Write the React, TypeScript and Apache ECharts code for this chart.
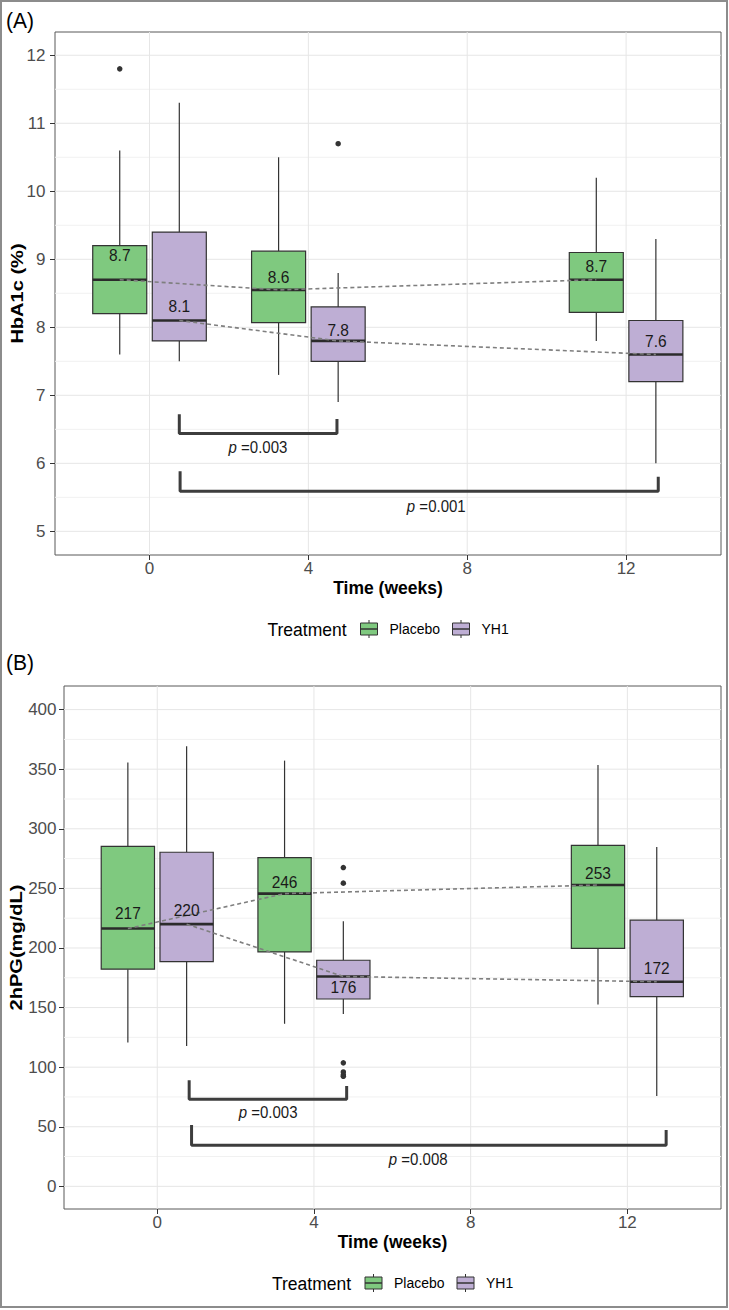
import React, { useEffect, useRef } from "react";
import * as echarts from "echarts";

const FONT = "'Liberation Sans', Arial, Helvetica, sans-serif";

// ---------- shared ----------
const weeks = [0, 4, 12];
const xTickLabels = [0, 4, 8, 12];
const treatments = ["Placebo", "YH1"];
const treatmentColors = ["#7fc97f", "#beaed4"];

// ---------- (A) HbA1c (%) : [lower whisker, Q1, median, Q3, upper whisker] per week ----------
const hbPlacebo = [
  [7.6, 8.2, 8.7, 9.2, 10.6],
  [7.3, 8.07, 8.55, 9.12, 10.5],
  [7.8, 8.22, 8.7, 9.1, 10.2],
];
const hbYH1 = [
  [7.5, 7.8, 8.1, 9.4, 11.3],
  [6.9, 7.5, 7.8, 8.3, 8.8],
  [6.0, 7.2, 7.6, 8.1, 9.3],
];
const hbPlaceboOutliers = [[0, 11.8]]; // [week, value]
const hbYH1Outliers = [[4, 10.7]];
const hbPlaceboLabels = ["8.7", "8.6", "8.7"];
const hbYH1Labels = ["8.1", "7.8", "7.6"];
const hbPlaceboLabelY = [9.07, 8.75, 8.9];
const hbYH1LabelY = [8.31, 7.97, 7.8];
const hbTicks = [5, 6, 7, 8, 9, 10, 11, 12];
const hbMinorTicks = [5.5, 6.5, 7.5, 8.5, 9.5, 10.5, 11.5];
const hbBracketX = [[0.75, 4.72], [0.77, 12.81]];
const hbBracketTop = [[6.7, 6.63], [5.86, 5.78]];
const hbBracketBar = [6.44, 5.59];
const hbPValues = ["0.003", "0.001"];
const hbPX = [2.73, 7.22];
const hbPY = [6.24, 5.37];

// ---------- (B) 2hPG (mg/dL) ----------
const pgPlacebo = [
  [120.6, 182.2, 216.3, 285.3, 355.6],
  [136.4, 196.7, 245.6, 275.8, 357.2],
  [152.5, 199.7, 252.8, 286.1, 353.6],
];
const pgYH1 = [
  [117.8, 188.6, 220, 280.3, 369.2],
  [144.7, 157.2, 176.1, 189.7, 222.5],
  [75.8, 159.2, 171.7, 223.3, 284.7],
];
const pgPlaceboOutliers: number[][] = [];
const pgYH1Outliers = [[4, 267.5], [4, 254.4], [4, 103.6], [4, 96], [4, 93.6], [4, 92.3]];
const pgPlaceboLabels = ["217", "246", "253"];
const pgYH1Labels = ["220", "176", "172"];
const pgPlaceboLabelY = [229.4, 255.8, 263.3];
const pgYH1LabelY = [232.2, 167.8, 183];
const pgTicks = [0, 50, 100, 150, 200, 250, 300, 350, 400];
const pgMinorTicks = [25, 75, 125, 175, 225, 275, 325, 375];
const pgBracketX = [[0.815, 4.835], [0.876, 12.99]];
const pgBracketTop = [[87.8, 83], [50.3, 46]];
const pgBracketBar = [73.1, 34.5];
const pgPValues = ["0.003", "0.008"];
const pgPX = [2.83, 6.66];
const pgPY = [62, 22.5];

// ---------- layout ----------
const DODGE = 0.75;
const BOX_W = 1.36;
const X_MIN = -2.38;
const X_MAX = 14.39;

const panels = [
  {
    tag: "(A)", tagY: 21, yTitle: "HbA1c (%)", yTitleX: 17.5,
    grid: { left: 55, top: 32, width: 666, height: 523 },
    yMin: 4.652, yMax: 12.342, yTicks: hbTicks, yMinor: hbMinorTicks, labelMargin: 9.5,
    boxes: [hbPlacebo, hbYH1], outliers: [hbPlaceboOutliers, hbYH1Outliers],
    labels: [hbPlaceboLabels, hbYH1Labels], labelY: [hbPlaceboLabelY, hbYH1LabelY],
    bx: hbBracketX, bt: hbBracketTop, bb: hbBracketBar,
    pv: hbPValues, px: hbPX, py: hbPY,
  },
  {
    tag: "(B)", tagY: 663, yTitle: "2hPG(mg/dL)", yTitleX: 16,
    grid: { left: 64, top: 686, width: 657, height: 523 },
    yMin: -19.0, yMax: 419.8, yTicks: pgTicks, yMinor: pgMinorTicks, labelMargin: 7.5,
    boxes: [pgPlacebo, pgYH1], outliers: [pgPlaceboOutliers, pgYH1Outliers],
    labels: [pgPlaceboLabels, pgYH1Labels], labelY: [pgPlaceboLabelY, pgYH1LabelY],
    bx: pgBracketX, bt: pgBracketTop, bb: pgBracketBar,
    pv: pgPValues, px: pgPX, py: pgPY,
  },
];

const offsets = [-DODGE, DODGE];

function gridLineSeries(gi: number, dir: string, values: number[], other: number, color: string, width: number) {
  return {
    type: "custom", xAxisIndex: gi, yAxisIndex: gi, silent: true, z: 0,
    data: values.map((v) => (dir === "x" ? [v, other] : [other, v])),
    renderItem: (params: any, api: any) => {
      const cs = params.coordSys;
      const p = api.coord([api.value(0), api.value(1)]);
      const shape = dir === "x"
        ? { x1: p[0], y1: cs.y, x2: p[0], y2: cs.y + cs.height }
        : { x1: cs.x, y1: p[1], x2: cs.x + cs.width, y2: p[1] };
      return { type: "line", shape, style: { stroke: color, lineWidth: width } };
    },
  };
}

function boxSeries(gi: number, stats: number[][], off: number, fill: string, name: string) {
  return {
    type: "custom", name, xAxisIndex: gi, yAxisIndex: gi, z: 2, silent: true,
    data: stats.map((s, i) => [weeks[i] + off, ...s]),
    renderItem: (params: any, api: any) => {
      const x = api.value(0);
      const pts = [1, 2, 3, 4, 5].map((d) => api.coord([x, api.value(d)]));
      const w = api.size([BOX_W, 0])[0];
      const cx = pts[0][0];
      return {
        type: "group",
        children: [
          { type: "line", shape: { x1: cx, y1: pts[0][1], x2: cx, y2: pts[1][1] }, style: { stroke: "#333", lineWidth: 1.2 } },
          { type: "line", shape: { x1: cx, y1: pts[3][1], x2: cx, y2: pts[4][1] }, style: { stroke: "#333", lineWidth: 1.2 } },
          { type: "rect", shape: { x: cx - w / 2, y: pts[3][1], width: w, height: pts[1][1] - pts[3][1] }, style: { fill, stroke: "#333", lineWidth: 1.2 } },
          { type: "line", shape: { x1: cx - w / 2, y1: pts[2][1], x2: cx + w / 2, y2: pts[2][1] }, style: { stroke: "#2b2b2b", lineWidth: 2.6 } },
        ],
      };
    },
  };
}

function textSeries(gi: number, data: number[][], texts: string[], rich: boolean) {
  return {
    type: "custom", xAxisIndex: gi, yAxisIndex: gi, z: 6, silent: true,
    data,
    renderItem: (params: any, api: any) => {
      const p = api.coord([api.value(0), api.value(1)]);
      const t = texts[params.dataIndex];
      const size = rich ? 15 : 15.5;
      const style: any = {
        text: rich ? "{i|p}{n| =" + t + "}" : t,
        fill: "#1a1a1a", fontSize: size, fontFamily: FONT,
        textAlign: "center", align: "center", textVerticalAlign: "middle", verticalAlign: "middle",
      };
      if (rich) {
        style.rich = {
          i: { fontStyle: "italic", fontSize: size, fontFamily: FONT, fill: "#1a1a1a" },
          n: { fontSize: size, fontFamily: FONT, fill: "#1a1a1a" },
        };
      }
      return { type: "text", x: p[0], y: p[1], scaleY: 1.08, style };
    },
  };
}

function txt(text: string, x: number, y: number, size: number, opts: any = {}) {
  return {
    type: "text", x, y, rotation: opts.rotation || 0, scaleX: opts.scaleX || 1, scaleY: opts.scaleY || 1, z: 10,
    style: {
      text, fill: opts.fill || "#000", fontSize: size, fontFamily: FONT,
      fontWeight: opts.bold ? "bold" : "normal",
      textAlign: opts.align || "left", align: opts.align || "left",
      textVerticalAlign: "middle", verticalAlign: "middle",
    },
  };
}

function legendKey(x: number, y: number, fill: string) {
  return [
    { type: "line", z: 10, shape: { x1: x + 8.5, y1: y - 9, x2: x + 8.5, y2: y + 9 }, style: { stroke: "#333", lineWidth: 1 } },
    { type: "rect", z: 10, shape: { x, y: y - 6, width: 17, height: 12 }, style: { fill, stroke: "#333", lineWidth: 1 } },
    { type: "line", z: 10, shape: { x1: x, y1: y, x2: x + 17, y2: y }, style: { stroke: "#333", lineWidth: 1.5 } },
  ];
}

function buildOption() {
  const series: any[] = [];
  const graphic: any[] = [
    { type: "rect", z: 0, shape: { x: 1, y: 1, width: 726, height: 1306 }, style: { fill: "none", stroke: "#8c8c8c", lineWidth: 2 } },
  ];
  panels.forEach((p, gi) => {
    series.push(gridLineSeries(gi, "y", p.yMinor, X_MIN, "#f1f1f1", 1));
    series.push(gridLineSeries(gi, "y", p.yTicks, X_MIN, "#e6e6e6", 1));
    series.push(gridLineSeries(gi, "x", xTickLabels, p.yMin, "#e6e6e6", 1));
    treatments.forEach((t, k) => {
      series.push(boxSeries(gi, p.boxes[k], offsets[k], treatmentColors[k], t));
      series.push({
        type: "scatter", xAxisIndex: gi, yAxisIndex: gi, z: 3, silent: true,
        symbolSize: 5.5, itemStyle: { color: "#333", opacity: 1 },
        data: p.outliers[k].map((o) => [o[0] + offsets[k], o[1]]),
      });
      series.push({
        type: "line", xAxisIndex: gi, yAxisIndex: gi, z: 4, silent: true, symbol: "none",
        lineStyle: { color: "#7f7f7f", width: 1.6, type: [4, 3] },
        data: p.boxes[k].map((s, i) => [weeks[i] + offsets[k], s[2]]),
      });
      series.push(textSeries(gi, weeks.map((w, i) => [w + offsets[k], p.labelY[k][i]]), p.labels[k], false));
    });
    p.bx.forEach((bx, j) => {
      series.push({
        type: "line", xAxisIndex: gi, yAxisIndex: gi, z: 5, silent: true, symbol: "none",
        lineStyle: { color: "#3d3d3d", width: 3, cap: "square" },
        data: [[bx[0], p.bt[j][0]], [bx[0], p.bb[j]], [bx[1], p.bb[j]], [bx[1], p.bt[j][1]]],
      });
    });
    series.push(textSeries(gi, p.px.map((x, j) => [x, p.py[j]]), p.pv, true));

    const g = p.grid;
    const cx = g.left + g.width / 2;
    const bottom = g.top + g.height;
    graphic.push(txt(p.tag, 6, p.tagY, 21, { scaleY: 1.05 }));
    graphic.push(txt(p.yTitle, p.yTitleX, g.top + g.height / 2, 17, { bold: true, align: "center", rotation: Math.PI / 2, scaleX: 1.18 }));
    graphic.push(txt("Time (weeks)", cx, bottom + 33, 17.5, { bold: true, align: "center", scaleY: 1.05 }));
    const ly = bottom + 74;
    graphic.push(txt("Treatment", cx - 120.5, ly, 17.5, { scaleY: 1.1 }));
    graphic.push(...legendKey(cx - 27.5, ly, treatmentColors[0]));
    graphic.push(txt("Placebo", cx + 1.5, ly, 14, { scaleY: 1.1 }));
    graphic.push(...legendKey(cx + 64.5, ly, treatmentColors[1]));
    graphic.push(txt("YH1", cx + 93.5, ly, 14, { scaleY: 1.1 }));
  });

  return {
    animation: false,
    backgroundColor: "#ffffff",
    grid: panels.map((p) => ({
      ...p.grid, show: true, borderColor: "#595959", borderWidth: 1, backgroundColor: "transparent",
      containLabel: false, outerBoundsMode: "none",
    })),
    xAxis: panels.map((p, gi) => ({
      type: "value", gridIndex: gi, min: X_MIN, max: X_MAX, position: "bottom",
      axisLine: { show: false, onZero: false },
      axisTick: { show: true, length: 5, lineStyle: { color: "#333", width: 1 }, customValues: xTickLabels },
      axisLabel: { customValues: xTickLabels, color: "#4d4d4d", fontSize: 17, fontFamily: FONT, margin: 5 },
      splitLine: { show: false },
    })),
    yAxis: panels.map((p, gi) => ({
      type: "value", gridIndex: gi, min: p.yMin, max: p.yMax, position: "left",
      axisLine: { show: false, onZero: false },
      axisTick: { show: true, length: 5, lineStyle: { color: "#333", width: 1 }, customValues: p.yTicks },
      axisLabel: { customValues: p.yTicks, color: "#4d4d4d", fontSize: 17, fontFamily: FONT, margin: p.labelMargin },
      splitLine: { show: false },
    })),
    series,
    graphic: { elements: graphic },
  };
}

export default function App() {
  const ref = useRef<HTMLDivElement>(null);
  useEffect(() => {
    document.body.style.margin = "0";
    const chart = echarts.init(ref.current!, null, { renderer: "svg" });
    chart.setOption(buildOption() as any);
    return () => chart.dispose();
  }, []);
  return <div ref={ref} style={{ width: 729, height: 1310 }} />;
}
